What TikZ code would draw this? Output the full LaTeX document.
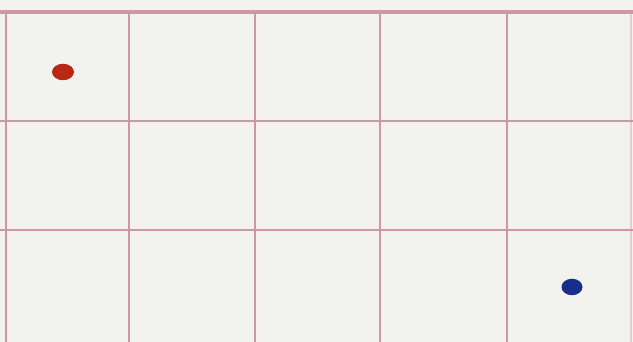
\documentclass[tikz,border=0pt]{standalone}
\usepackage{tikz}
\usetikzlibrary{positioning,shapes.geometric}

\definecolor{paper}{RGB}{242,242,238}
\definecolor{gridpink}{RGB}{205,150,170}
\definecolor{dotred}{RGB}{185,40,20}
\definecolor{dotblue}{RGB}{25,45,140}

\begin{document}
\begin{tikzpicture}[
  gridline/.style={gridpink, line width=1.6pt},
  dot/.style={draw=none, ellipse, minimum width=4.4mm, minimum height=3.3mm, inner sep=0pt}
]
% --- sheet -----------------------------------------------------------------
\fill[paper] (0,0) rectangle (12.66,6.84);
\useasboundingbox (0,0) rectangle (12.66,6.84);

% --- grid ------------------------------------------------------------------
\foreach \x in {0.12,2.58,5.1,7.6,10.14} \draw[gridline] (\x,0) -- (\x,6.62);
\draw[gridline, gridpink!50, line width=1pt] (12.62,0) -- (12.62,6.62);
\foreach \y in {4.42,2.24} \draw[gridline] (0,\y) -- (12.66,\y);
\draw[gridline, line width=2.2pt] (0,6.6) -- (12.66,6.6);

% --- dots ------------------------------------------------------------------
\node[dot, fill=dotred] (start) at (1.26,5.4) {};
\node[dot, fill=dotblue, minimum width=4.2mm] (goal) at (11.44,1.1) {};
\end{tikzpicture}
\end{document}
